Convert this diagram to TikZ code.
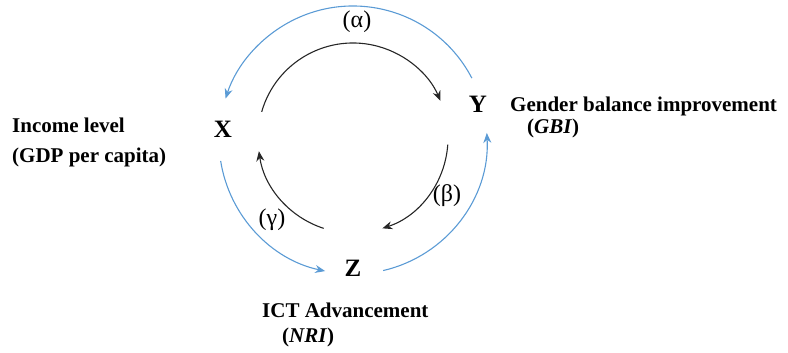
\documentclass[tikz,border=0pt]{standalone}
\usepackage{fontspec}
\setmainfont{Liberation Serif}[
  UprightFont={Liberation Serif},
  BoldFont={Liberation Serif Bold},
  ItalicFont={Liberation Serif Italic},
  BoldItalicFont={Liberation Serif Bold Italic}]
\usetikzlibrary{arrows.meta}
\definecolor{arcblue}{RGB}{91,155,213}
\tikzset{
  varlabel/.style={font=\fontsize{25}{28}\selectfont\bfseries, inner sep=0pt, anchor=base},
  desc/.style={font=\fontsize{21}{24}\selectfont\bfseries, inner sep=0pt, anchor=base west},
  greek/.style={font=\fontsize{24}{27}\selectfont, inner sep=0pt},
  blackarc/.style={draw=black!85, line width=1.1pt, -{Stealth[length=10pt,width=8pt]}},
  bluearc/.style={draw=arcblue, line width=1.1pt, -{Stealth[length=10pt,width=8pt]}}
}
\begin{document}
\begin{tikzpicture}[x=1pt,y=1pt]
\useasboundingbox (0,0) rectangle (788,-353);
% variables
\node[varlabel] (X) at (223,-138) {X};
\node[varlabel] (Y) at (478,-113) {Y};
\node[varlabel] (Z) at (353,-276) {Z};
% descriptions
\node[desc] (inc1) at (12,-132) {Income level};
\node[desc] (inc2) at (12,-162) {(GDP per capita)};
\node[desc] (gen1) at (510,-112) {Gender balance improvement};
\node[desc] (gen2) at (527,-133) {(\textit{GBI})};
\node[desc] (ict1) at (262,-317) {ICT Advancement};
\node[desc] (ict2) at (282,-342) {(\textit{NRI})};
% greek labels
\node[greek] (al) at (357,-22) {(α)};
\node[greek] (be) at (447,-196) {(β)};
\node[greek] (ga) at (272,-220) {(γ)};
% circle centres
\coordinate (Ci) at (353,-138);
\coordinate (Co) at (353,-140);
% inner black arcs
\draw[blackarc] ([shift={(164:95pt)}]Ci) arc[start angle=164, end angle=23, radius=95pt];
\draw[blackarc] ([shift={(-4:95pt)}]Ci) arc[start angle=-4, end angle=-72, radius=95pt];
\draw[blackarc] ([shift={(-108:95pt)}]Ci) arc[start angle=-108, end angle=-172, radius=95pt];
% outer blue arcs
\draw[bluearc] ([shift={(27.5:134pt)}]Co) arc[start angle=27.5, end angle=162, radius=134pt];
\draw[bluearc] ([shift={(-171:134pt)}]Co) arc[start angle=-171, end angle=-102, radius=134pt];
\draw[bluearc] ([shift={(-77:134pt)}]Co) arc[start angle=-77, end angle=3, radius=134pt];
\end{tikzpicture}
\end{document}
